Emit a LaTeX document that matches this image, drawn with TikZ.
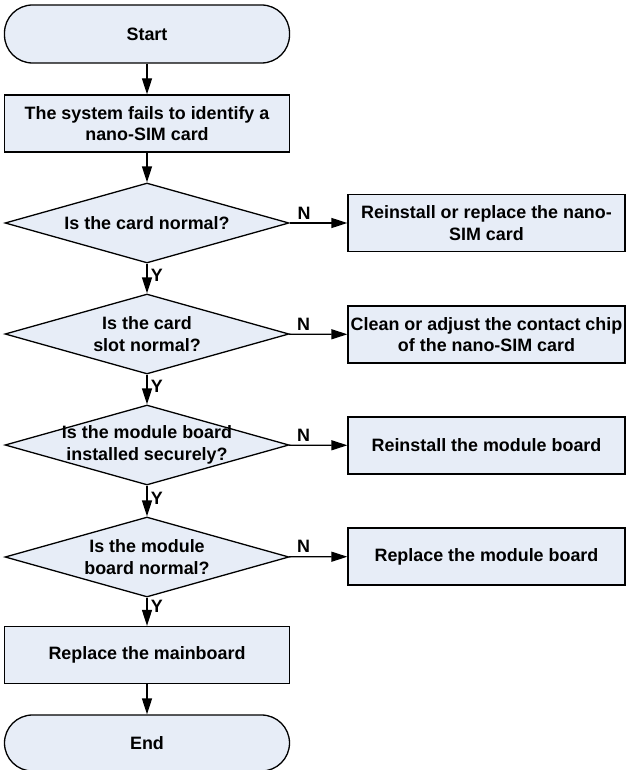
\documentclass[tikz,border=0pt]{standalone}
\usepackage{fontspec}
\setmainfont{Liberation Sans}
\usetikzlibrary{shapes.geometric,arrows.meta}
\definecolor{boxfill}{RGB}{231,237,247}
\begin{document}
\begin{tikzpicture}[x=1pt,y=-1pt,line width=1.3pt,
  font=\fontsize{17.9}{21.5}\selectfont\bfseries,
  term/.style={draw,fill=boxfill,rounded corners=28pt,minimum width=285pt,minimum height=58pt,inner sep=1pt},
  proc/.style={draw,fill=boxfill,minimum width=285pt,minimum height=57pt,align=center,inner sep=1pt},
  fix/.style={proc,minimum width=277pt},
  decision/.style={diamond,draw,fill=boxfill,minimum width=284pt,minimum height=80pt,inner sep=0pt},
  flow/.style={-{Triangle[length=16pt,width=10pt]}},
  every label/.style={align=center}]
\useasboundingbox (0,0) rectangle (627,770);
% main column
\node[term] (start) at (147,34) {Start};
\node[proc] (fail) at (147,123.5) {The system fails to identify a\\nano-SIM card};
\node[decision,label={center:Is the card normal?}] (card) at (147,223) {};
\node[decision,label={center:Is the card\\slot normal?}] (slot) at (147,334) {};
\node[decision,label={center:Is the module board\\installed securely?}] (secure) at (147,445) {};
\node[decision,label={center:Is the module\\board normal?}] (board) at (147,557) {};
\node[proc] (mainboard) at (147,655) {Replace the mainboard};
\node[term,minimum height=56pt] (end) at (147,743) {End};
% fixes on the right
\node[fix] (swapcard) at (486.5,223) {Reinstall or replace the nano-\\SIM card};
\node[fix] (clean) at (486.5,334.5) {Clean or adjust the contact chip\\of the nano-SIM card};
\node[fix] (reinstall) at (486.5,445.5) {Reinstall the module board};
\node[fix] (swapboard) at (486.5,556.5) {Replace the module board};
% connectors
\draw[flow] (start) -- (fail);
\draw[flow] (fail) -- (card);
\draw[flow] (card) -- node[right,pos=.4] {Y} (slot);
\draw[flow] (slot) -- node[right,pos=.4] {Y} (secure);
\draw[flow] (secure) -- node[right,pos=.4] {Y} (board);
\draw[flow] (board) -- node[right,pos=.3] {Y} (mainboard);
\draw[flow] (mainboard) -- (end);
\draw[flow] (card) -- node[above,pos=.25] {N} (swapcard);
\draw[flow] (slot) -- node[above,pos=.25] {N} (clean);
\draw[flow] (secure) -- node[above,pos=.25] {N} (reinstall);
\draw[flow] (board) -- node[above,pos=.25] {N} (swapboard);
\end{tikzpicture}
\end{document}
